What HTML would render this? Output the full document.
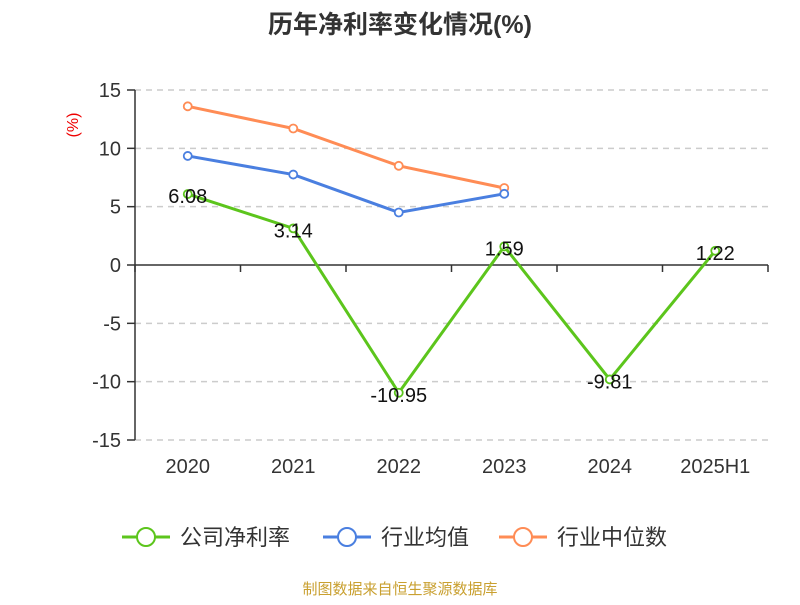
<!DOCTYPE html>
<html><head><meta charset="utf-8"><style>
body{margin:0;background:#fff;}
svg text{font-family:"Liberation Sans","Noto Sans CJK SC",sans-serif;}
</style></head><body>
<svg width="800" height="600" xmlns="http://www.w3.org/2000/svg">
<text x="400" y="33" text-anchor="middle" font-size="25" font-weight="bold" fill="#333">历年净利率变化情况(%)</text>
<text transform="translate(78,125) rotate(-90)" text-anchor="middle" font-size="16" fill="#e00">(%)</text>
<g id="grid"></g><g id="axes"></g><g id="series"></g>
<g id="legend"></g>
<text x="400" y="594" text-anchor="middle" font-size="15" fill="#c9a030">制图数据来自恒生聚源数据库</text>
<script>
const categories=["2020","2021","2022","2023","2024","2025H1"];
const company=[6.08,3.14,-10.95,1.59,-9.81,1.22];
const industryAvg=[9.35,7.75,4.5,6.1,null,null];
const industryMedian=[13.6,11.7,8.5,6.6,null,null];
const yTicks=[15,10,5,0,-5,-10,-15];
const NS="http://www.w3.org/2000/svg";
const x0=135,x1=768,yTop=90,yBot=440;
const bw=(x1-x0)/categories.length;
const xs=i=>x0+bw*(i+0.5);
const ys=v=>yTop+(15-v)/30*(yBot-yTop);
function mk(tag,attrs,parent,txt){const e=document.createElementNS(NS,tag);for(const k in attrs)e.setAttribute(k,attrs[k]);if(txt!==undefined)e.textContent=txt;document.getElementById(parent).appendChild(e);return e;}
yTicks.forEach(t=>{
 if(t!==0){const g=mk('line',{x1:x0,x2:x1,y1:ys(t),y2:ys(t),stroke:'#ccc','stroke-dasharray':'6,5','stroke-width':1.5},'grid');
 
 }
 const tk=mk('line',{x1:x0-8,x2:x0,y1:ys(t),y2:ys(t),stroke:'#333','stroke-width':1.5},'axes');
 
 
 const l=mk('text',{x:x0-14,y:ys(t)+7,'text-anchor':'end','font-size':20,fill:'#333'},'axes',String(t));
 
 
});
const ya=mk('line',{x1:x0,x2:x0,y1:yTop,y2:yBot,stroke:'#333','stroke-width':1.5},'axes');


const xa=mk('line',{x1:x0,x2:x1,y1:ys(0),y2:ys(0),stroke:'#333','stroke-width':1.5},'axes');


for(let i=0;i<=categories.length;i++){const t=mk('line',{x1:x0+bw*i,x2:x0+bw*i,y1:ys(0),y2:ys(0)+7,stroke:'#333','stroke-width':1.5},'axes');
 
 }
categories.forEach((c,i)=>{const t=mk('text',{x:xs(i),y:473,'text-anchor':'middle','font-size':20,fill:'#333'},'axes',c);
 
 });
function series(vals,color,name,labels){
 const pts=[];vals.forEach((v,i)=>{if(v!==null)pts.push([xs(i),ys(v),v]);});
 const p=mk('polyline',{points:pts.map(p=>p[0]+','+p[1]).join(' '),fill:'none',stroke:color,'stroke-width':3},'series');
 
 
 pts.forEach(q=>{const c=mk('circle',{cx:q[0],cy:q[1],r:4,fill:'#fff',stroke:color,'stroke-width':1.8},'series');
  
  
  if(labels){const t=mk('text',{x:q[0],y:q[1]+9,'text-anchor':'middle','font-size':20,fill:'#111'},'series',q[2].toFixed(2));
   
   }
 });
}
series(industryMedian,'#ff8c55','industry-median',false);
series(industryAvg,'#4a7fe0','industry-average',false);
series(company,'#5cc51c','company-net-margin',true);
const leg=[["公司净利率","#5cc51c",122],["行业均值","#4a7fe0",323],["行业中位数","#ff8c55",499]];
leg.forEach(l=>{
 const a=mk('line',{x1:l[2],x2:l[2]+48,y1:537,y2:537,stroke:l[1],'stroke-width':3},'legend');
 
 
 const c=mk('circle',{cx:l[2]+24,cy:537,r:9,fill:'#fff',stroke:l[1],'stroke-width':2},'legend');
 
 
 const t=mk('text',{x:l[2]+58,y:545,'font-size':22,fill:'#333'},'legend',l[0]);
 
 
});
</script>
</svg>
</body></html>
